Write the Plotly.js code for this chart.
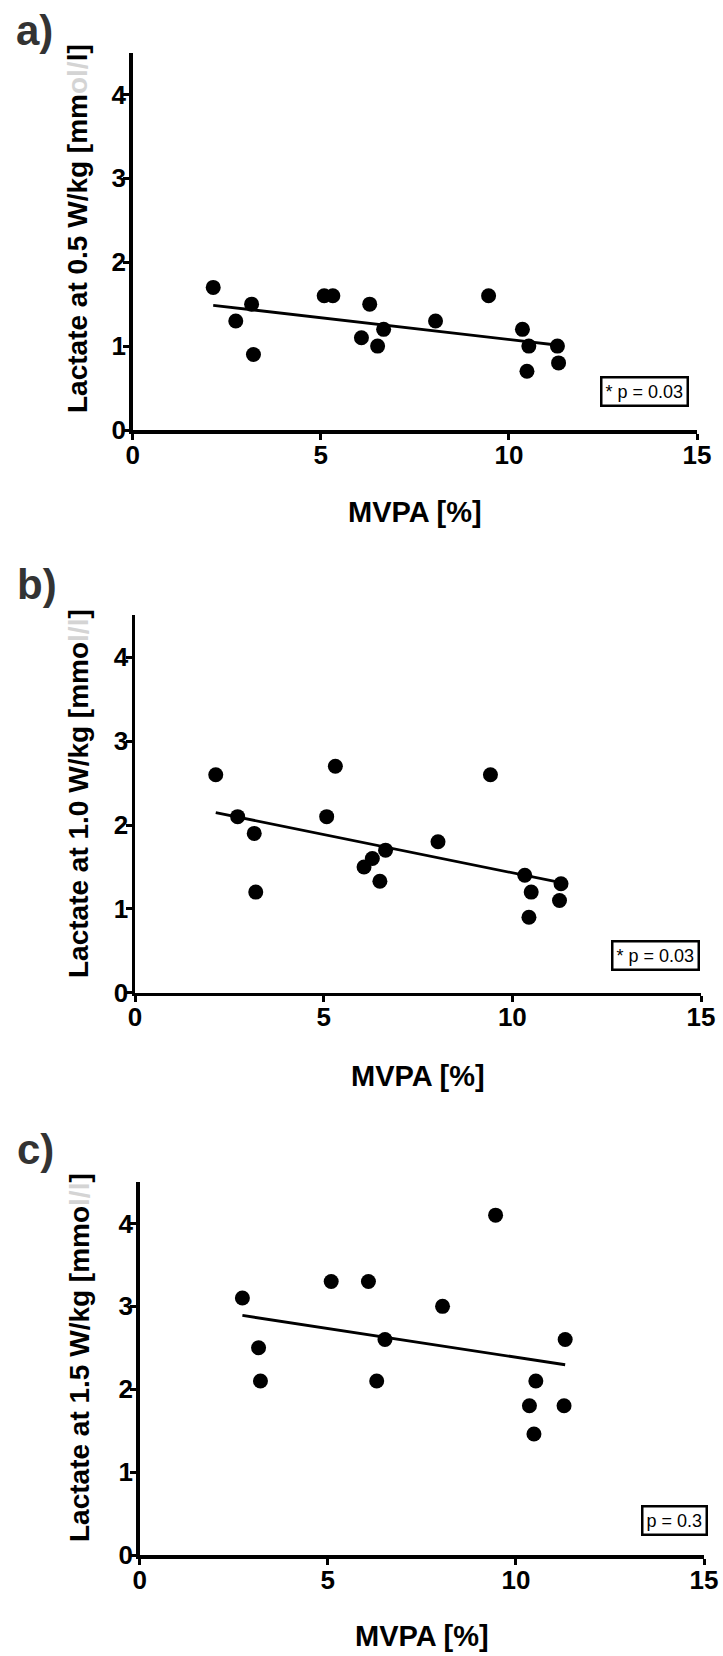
<!DOCTYPE html>
<html>
<head>
<meta charset="utf-8">
<script src="https://cdn.plot.ly/plotly-3.0.1.min.js"></script>
<style>html,body{margin:0;padding:0;background:#fff;}#chart{width:723px;height:1656px;}</style>
</head>
<body>
<div id="chart"></div>
<script>
// ---- Data ----
const xTicks = [0, 5, 10, 15];
const yTicks = [0, 1, 2, 3, 4];
const xTitle = "MVPA [%]";
const panelLabels = ["a)", "b)", "c)"];
const yTitles = [
  "Lactate at 0.5 W/kg [mm<span style='color:#d4d4d4'>ol/</span>l]",
  "Lactate at 1.0 W/kg [mmo<span style='color:#d4d4d4'>l/l</span>]",
  "Lactate at 1.5 W/kg [mmo<span style='color:#d4d4d4'>l/l</span>]"
];
const pTexts = ["* p = 0.03", "* p = 0.03", "p = 0.3"];

// Panel a: lactate at 0.5 W/kg
const mvpaA = [2.14, 2.74, 3.16, 3.21, 5.09, 5.32, 6.30, 6.08, 6.67, 6.51, 8.05, 9.46, 10.36, 10.53, 10.48, 11.29, 11.32];
const lactA = [1.7, 1.3, 1.5, 0.9, 1.6, 1.6, 1.5, 1.1, 1.2, 1.0, 1.3, 1.6, 1.2, 1.0, 0.7, 1.0, 0.8];
// Panel b: lactate at 1.0 W/kg
const mvpaB = [2.14, 5.31, 9.42, 2.72, 5.08, 3.16, 8.03, 6.64, 6.29, 6.07, 6.49, 3.20, 10.33, 10.50, 11.29, 11.25, 10.44];
const lactB = [2.6, 2.7, 2.6, 2.1, 2.1, 1.9, 1.8, 1.7, 1.6, 1.5, 1.33, 1.2, 1.4, 1.2, 1.3, 1.1, 0.9];
// Panel c: lactate at 1.5 W/kg
const mvpaC = [9.46, 5.09, 6.08, 2.73, 8.05, 6.52, 11.31, 3.16, 3.21, 6.30, 10.53, 10.36, 11.28, 10.48];
const lactC = [4.1, 3.3, 3.3, 3.1, 3.0, 2.6, 2.6, 2.5, 2.1, 2.1, 2.1, 1.8, 1.8, 1.46];

// ---- Layout geometry (pixels in 723x1656 page) ----
const W = 723, H = 1656;
const panels = [
  {xs: mvpaA, ys: lactA, x0: 132.7, x1: 697, yb: 430,   yt: 52.5,  lab: [14, 31],   yt_c: [77, 229],  xt_c: 512,  pc: [644, 391]},
  {xs: mvpaB, ys: lactB, x0: 135,   x1: 701, yb: 992.7, yt: 615.4, lab: [15, 584],  yt_c: [78, 794],  xt_c: 1076, pc: [655.5, 955]},
  {xs: mvpaC, ys: lactC, x0: 139.7, x1: 704, yb: 1555,  yt: 1182,  lab: [15, 1149], yt_c: [79, 1358], xt_c: 1636, pc: [674.5, 1520]}
];

function fit(xs, ys) {
  const n = xs.length;
  const mx = xs.reduce((a, b) => a + b, 0) / n;
  const my = ys.reduce((a, b) => a + b, 0) / n;
  let sxy = 0, sxx = 0;
  for (let i = 0; i < n; i++) { sxy += (xs[i] - mx) * (ys[i] - my); sxx += (xs[i] - mx) ** 2; }
  const b = sxy / sxx, a = my - b * mx;
  const lo = Math.min(...xs), hi = Math.max(...xs);
  return {x: [lo, hi], y: [a + b * lo, a + b * hi]};
}

const px = v => v / W;
const py = v => 1 - v / H;
const FONT = "Liberation Sans, Arial, sans-serif";

const data = [];
const layout = {
  width: W, height: H,
  margin: {l: 0, r: 0, t: 0, b: 0},
  paper_bgcolor: "#fff", plot_bgcolor: "#fff",
  showlegend: false,
  annotations: []
};

panels.forEach((p, i) => {
  const sfx = i === 0 ? "" : String(i + 1);
  const xa = "x" + sfx, ya = "y" + sfx;
  const line = fit(p.xs, p.ys);
  data.push({type: "scatter", mode: "lines", x: line.x, y: line.y, xaxis: xa, yaxis: ya,
             line: {color: "#000", width: 2.8}, hoverinfo: "skip", cliponaxis: false});
  data.push({type: "scatter", mode: "markers", x: p.xs, y: p.ys, xaxis: xa, yaxis: ya,
             marker: {color: "#000", size: 15, line: {width: 0}}, cliponaxis: false});
  const axCommon = {
    showgrid: false, zeroline: false, showline: true, linecolor: "#000", linewidth: 3.5,
    ticks: "outside", ticklen: 6, tickwidth: 3, tickcolor: "#000",
    tickfont: {family: FONT, size: 26, color: "#000", weight: "bold"},
    fixedrange: true
  };
  layout["xaxis" + sfx] = Object.assign({}, axCommon, {
    domain: [px(p.x0), px(p.x1)], range: [0, 15], tickmode: "array", tickvals: xTicks,
    anchor: ya, ticklabelstandoff: -7
  });
  layout["yaxis" + sfx] = Object.assign({}, axCommon, {
    domain: [py(p.yb), py(p.yt)], range: [0, 4.5], tickmode: "array", tickvals: yTicks,
    anchor: xa, ticklabelstandoff: -8
  });
  // panel label
  layout.annotations.push({xref: "paper", yref: "paper", x: px(p.lab[0]), y: py(p.lab[1]),
    xanchor: "left", yanchor: "middle", showarrow: false, text: panelLabels[i],
    font: {family: FONT, size: 42, color: "#333", weight: "bold"}});
  // y title
  layout.annotations.push({xref: "paper", yref: "paper", x: px(p.yt_c[0]), y: py(p.yt_c[1]),
    xanchor: "center", yanchor: "middle", showarrow: false, textangle: -90, text: yTitles[i],
    font: {family: FONT, size: 28, color: "#000", weight: "bold"}});
  // x title
  layout.annotations.push({xref: "paper", yref: "paper", x: px((p.x0 + p.x1) / 2), y: py(p.xt_c),
    xanchor: "center", yanchor: "middle", showarrow: false, text: xTitle,
    font: {family: FONT, size: 29, color: "#000", weight: "bold"}});
  // p-value box
  layout.annotations.push({xref: "paper", yref: "paper", x: px(p.pc[0]), y: py(p.pc[1]),
    xanchor: "center", yanchor: "middle", showarrow: false, text: pTexts[i],
    bordercolor: "#000", borderwidth: 2.5, borderpad: 3, bgcolor: "#fff",
    font: {family: FONT, size: 18, color: "#000"}});
});

Plotly.newPlot("chart", data, layout, {displayModeBar: false, staticPlot: true});
</script>
</body>
</html>
